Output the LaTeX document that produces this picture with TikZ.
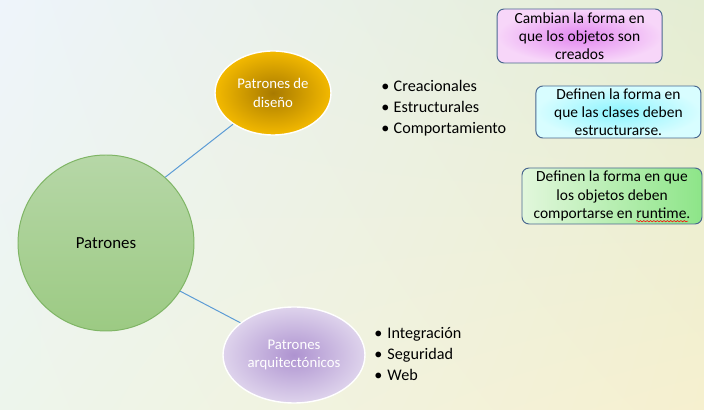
\documentclass[tikz,border=0pt]{standalone}
\usepackage{fontspec}
\setmainfont{Carlito}
\usepackage{xcolor}
\definecolor{fondoA}{HTML}{EEF4FB}
\definecolor{fondoB}{HTML}{E4EDD3}
\definecolor{fondoC}{HTML}{EDF5EC}
\definecolor{fondoD}{HTML}{F6F0CF}
\definecolor{verdeA}{HTML}{B6D7A7}
\definecolor{verdeB}{HTML}{9CCA83}
\definecolor{verdeC}{HTML}{7FB565}
\definecolor{oroA}{HTML}{A87A00}
\definecolor{oroB}{HTML}{F3B900}
\definecolor{lilaA}{HTML}{AE93D0}
\definecolor{lilaB}{HTML}{DED3EC}
\definecolor{linea}{HTML}{5B9BD5}
\definecolor{borde}{HTML}{4A6890}
\definecolor{rosaA}{HTML}{E387F0}
\definecolor{rosaB}{HTML}{F7D6F9}
\definecolor{cianA}{HTML}{8CF4FF}
\definecolor{cianB}{HTML}{D8FDFF}
\definecolor{menta}{HTML}{E2F7DC}
\definecolor{mentaB}{HTML}{8DE588}
\usepackage{tikz}
\usetikzlibrary{
    shapes.geometric,
    shadings,
    positioning,
    decorations.pathmorphing
}

\begin{document}
\begin{tikzpicture}[
    enlace/.style={draw=linea, line width=0.7pt},
    rama/.style={ellipse, draw=white, line width=1pt, text=white, align=center,
        font=\fontsize{10.5}{13}\selectfont, inner sep=0pt},
    nota/.style={rectangle, rounded corners=5pt, draw=borde, line width=0.7pt,
        align=center, font=\fontsize{11}{13}\selectfont, inner sep=0pt},
    lista/.style={anchor=west, align=left, font=\fontsize{11.5}{15}\selectfont, inner sep=0pt}
]
    % Fondo
    \useasboundingbox (0,0) rectangle (17.6,10.25);
    \shade[upper left=fondoA, upper right=fondoB, lower left=fondoC, lower right=fondoD]
        (0,0) rectangle (17.6,10.25);

    % Nodo central
    \node[circle, minimum size=4.4cm, top color=verdeA, bottom color=verdeB, draw=verdeC,
        line width=0.7pt, font=\fontsize{12}{14}\selectfont] (patrones) at (2.65,4.175) {Patrones};

    % Ramas
    \node[rama, minimum width=2.9cm, minimum height=2.1cm, inner color=oroA, outer color=oroB]
        (diseno) at (6.825,7.925) {Patrones de\\diseño};
    \node[rama, minimum width=3.55cm, minimum height=2.4cm, inner color=lilaA, outer color=lilaB]
        (arqui) at (7.35,1.375) {Patrones\\arquitectónicos};

    \draw[enlace] (patrones.48) -- (diseno.218);
    \draw[enlace] (patrones.327) -- (arqui.149);

    % Listas
    \node[lista] (tipos) at (9.53,7.55)
        {\makebox[8.7pt][l]{\textbullet}Creacionales\\
         \makebox[8.7pt][l]{\textbullet}Estructurales\\
         \makebox[8.7pt][l]{\textbullet}Comportamiento};
    \node[lista] (areas) at (9.35,1.39)
        {\makebox[9.4pt][l]{\textbullet}Integración\\
         \makebox[9.4pt][l]{\textbullet}Seguridad\\
         \makebox[9.4pt][l]{\textbullet}Web};

    % Notas
    \node[nota, minimum width=4.125cm, minimum height=1.35cm, inner color=rosaA, outer color=rosaB]
        (creac) at (14.49,9.35) {Cambian la forma en\\que los objetos son\\creados};
    \node[nota, minimum width=4.125cm, minimum height=1.3cm, inner color=cianA, outer color=cianB]
        (estruc) at (15.46,7.45) {Definen la forma en\\que las clases deben\\estructurarse.};
    \node[nota, minimum width=4.5cm, minimum height=1.4cm, left color=menta, right color=mentaB]
        (comport) at (15.3,5.35) {Definen la forma en que\\los objetos deben\\comportarse en runtime.};
    \draw[red, decorate, decoration={snake, amplitude=0.45pt, segment length=2.4pt}]
        (15.9,4.72) -- (17.2,4.72);
\end{tikzpicture}
\end{document}
